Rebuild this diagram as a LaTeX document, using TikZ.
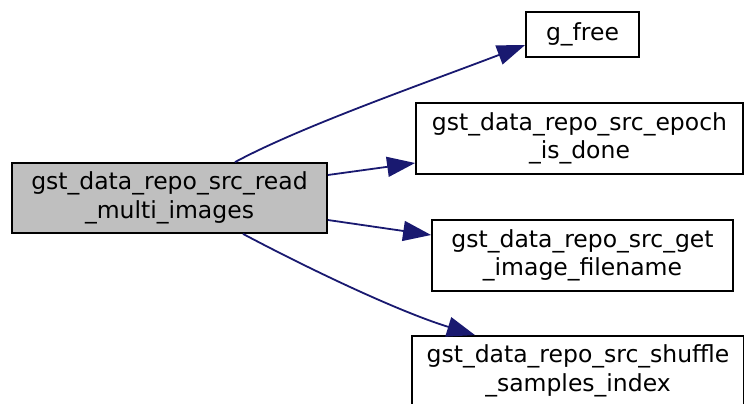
\documentclass[tikz,border=0pt]{standalone}
\usepackage{fontspec}
\setmainfont{DejaVu Sans}
\usepackage{xcolor}
\usetikzlibrary{arrows.meta}
\definecolor{edgeblue}{HTML}{191970}
\definecolor{nodegray}{HTML}{BFBFBF}

\begin{document}
\begin{tikzpicture}[
  x=1pt, y=-1pt,
  >={Triangle[length=28pt,width=20pt]},
  func/.style={rectangle, draw=black, line width=1.8pt, inner sep=0pt, align=center, font=\fontsize{23.5}{28.5}\selectfont},
  call/.style={->, draw=edgeblue, fill=none, line width=1.8pt}
]
  \useasboundingbox (0,0) rectangle (744,404);
  \node[func, fill=nodegray, minimum width=315pt, minimum height=70pt] (main) at (169.5,198) {gst\_data\_repo\_src\_read\\\_multi\_images};
  \node[func, minimum width=113pt, minimum height=45pt] (gfree) at (582.5,34.5) {g\_free};
  \node[func, minimum width=327pt, minimum height=71pt] (epoch) at (579.5,138.5) {gst\_data\_repo\_src\_epoch\\\_is\_done};
  \node[func, minimum width=301pt, minimum height=71pt] (getname) at (582.5,255.5) {gst\_data\_repo\_src\_get\\\_image\_filename};
  \node[func, minimum width=332pt, minimum height=70pt] (shuffle) at (578,371) {gst\_data\_repo\_src\_shuffle\\\_samples\_index};
  \draw[call] ([xshift=65.5pt]main.north) .. controls (300,127) and (420,85) .. ([yshift=-10.5pt]gfree.west);
  \draw[call] ([yshift=23pt]main.east) -- ([yshift=-24.5pt]epoch.west);
  \draw[call] ([yshift=-22pt]main.east) -- ([yshift=20.5pt]getname.west);
  \draw[call] ([xshift=73.5pt]main.south) .. controls (313,271) and (400,312) .. ([xshift=-103pt]shuffle.north);
\end{tikzpicture}
\end{document}
